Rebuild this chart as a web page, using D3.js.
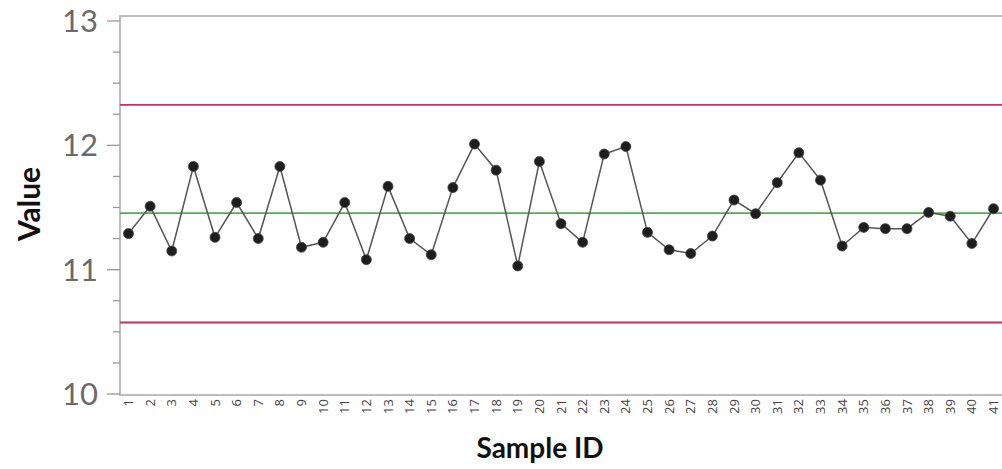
<!DOCTYPE html>
<html>
<head>
<meta charset="utf-8">
<script src="https://cdn.jsdelivr.net/npm/d3@7"></script>
<style>
  body { margin: 0; background: #fff; }
  svg { display: block; }
</style>
</head>
<body>
<div id="chart"></div>
<script>
// Data
const sampleIds = d3.range(1, 42).map(String);
const values = [
  11.29, 11.51, 11.15, 11.83, 11.26, 11.54, 11.25, 11.83, 11.18, 11.22,
  11.54, 11.08, 11.67, 11.25, 11.12, 11.66, 12.01, 11.80, 11.03, 11.87,
  11.37, 11.22, 11.93, 11.99, 11.30, 11.16, 11.13, 11.27, 11.56, 11.45,
  11.70, 11.94, 11.72, 11.19, 11.34, 11.33, 11.33, 11.46, 11.43, 11.21,
  11.49
];
const yTicks = [10, 11, 12, 13];
const ucl = 12.325;
const centerLine = 11.455;
const lcl = 10.575;

// Layout
const width = 1002;
const height = 469;
const frame = { left: 120, right: 1010, top: 16, bottom: 395 };

const svg = d3.select("#chart")
  .append("svg")
    .attr("width", width)
    .attr("height", height);

const x = d3.scalePoint()
  .domain(sampleIds)
  .range([128.5, 993.5]);

const y = d3.scaleLinear()
  .domain([10, 13])
  .range([394, 21]);

// plot frame
svg.append("rect")
  .attr("x", frame.left)
  .attr("y", frame.top)
  .attr("width", frame.right - frame.left)
  .attr("height", frame.bottom - frame.top)
  .attr("fill", "none")
  .attr("stroke", "#a8a8a8")
  .attr("stroke-width", 1.5);

// control limit lines
const limits = [
  { v: ucl, color: "#c4335f" },
  { v: lcl, color: "#c4335f" },
  { v: centerLine, color: "#4caf50" }
];
svg.selectAll("line.limit")
  .data(limits)
  .join("line")
    .attr("class", "limit")
    .attr("x1", frame.left)
    .attr("x2", width)
    .attr("y1", d => y(d.v))
    .attr("y2", d => y(d.v))
    .attr("stroke", d => d.color)
    .attr("stroke-width", 1.8);

// y axis: major + minor ticks
const yAxis = svg.append("g")
  .attr("transform", `translate(${frame.left},0)`);

yAxis.selectAll("line.minor")
  .data(d3.range(10, 13.001, 0.25).filter(v => !yTicks.includes(v)))
  .join("line")
    .attr("class", "minor")
    .attr("x1", -7).attr("x2", 0)
    .attr("y1", d => y(d)).attr("y2", d => y(d))
    .attr("stroke", "#999")
    .attr("stroke-width", 1.3);

yAxis.selectAll("line.major")
  .data(yTicks)
  .join("line")
    .attr("class", "major")
    .attr("x1", -13).attr("x2", 0)
    .attr("y1", d => y(d)).attr("y2", d => y(d))
    .attr("stroke", "#999")
    .attr("stroke-width", 1.3);

yAxis.selectAll("text")
  .data(yTicks)
  .join("text")
    .attr("x", -22)
    .attr("y", d => y(d))
    .attr("dy", "0.36em")
    .attr("text-anchor", "end")
    .attr("font-family", "Lato, sans-serif")
    .attr("font-size", 31)
    .attr("fill", "#6a6a6a")
    .text(d => d);

// x axis tick labels (rotated)
svg.append("g")
  .selectAll("text")
  .data(sampleIds)
  .join("text")
    .attr("transform", d => `translate(${x(d) + 4.5},${frame.bottom + 4}) rotate(-90)`)
    .attr("text-anchor", "end")
    .attr("font-family", "'Open Sans', sans-serif")
    .attr("font-size", 13)
    .attr("fill", "#444")
    .text(d => d);

// series line
svg.append("path")
  .datum(values)
  .attr("fill", "none")
  .attr("stroke", "#555")
  .attr("stroke-width", 1.5)
  .attr("d", d3.line()
    .x((d, i) => x(sampleIds[i]))
    .y(d => y(d)));

// points
svg.selectAll("circle.pt")
  .data(values)
  .join("circle")
    .attr("class", "pt")
    .attr("cx", (d, i) => x(sampleIds[i]))
    .attr("cy", d => y(d))
    .attr("r", 5)
    .attr("fill", "#1e1e1e")
    .attr("stroke", "#444")
    .attr("stroke-width", 0.8);

// axis titles
svg.append("text")
  .attr("transform", `translate(40,204) rotate(-90)`)
  .attr("text-anchor", "middle")
  .attr("font-family", "Lato, sans-serif")
  .attr("font-weight", "bold")
  .attr("font-size", 30)
  .attr("fill", "#111")
  .text("Value");

svg.append("text")
  .attr("x", 540)
  .attr("y", 458)
  .attr("text-anchor", "middle")
  .attr("font-family", "Lato, sans-serif")
  .attr("font-weight", "bold")
  .attr("font-size", 28)
  .attr("fill", "#111")
  .text("Sample ID");
</script>
</body>
</html>
